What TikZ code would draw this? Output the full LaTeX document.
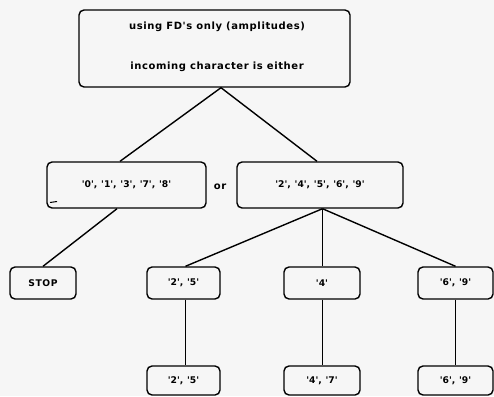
\documentclass[tikz,border=0pt]{standalone}
\usepackage{fontspec}
\setmainfont{DejaVu Sans}
\newfontfamily\boxfont[LetterSpace=6]{DejaVu Sans}
\usetikzlibrary{calc}
\newcommand{\qq}[1]{\textquotesingle#1\textquotesingle}
\begin{document}
\begin{tikzpicture}[x=1pt,y=-1pt,
  box/.style={draw=black,line width=1.4pt,rounded corners=5pt,inner sep=0pt,font=\boxfont\bfseries\fontsize{9.2}{10}\selectfont},
  lbl/.style={inner sep=0pt,font=\boxfont\bfseries\fontsize{10}{11}\selectfont},
  link/.style={draw=black,line width=1.4pt}]
\fill[gray!7] (0,0) rectangle (494,396);
\useasboundingbox (0,0) rectangle (494,396);
% top box
\node[box,minimum width=271pt,minimum height=77pt] (top) at (214.5,48.5) {};
\node[lbl] (t1) at (217,27) {using FD's only (amplitudes)};
\node[lbl] (t2) at (217,67) {incoming character is either};
% middle row
\node[box,minimum width=159pt,minimum height=46pt] (ml) at (126.5,185) {\qq{0}, \qq{1}, \qq{3}, \qq{7}, \qq{8}};
\node[lbl] (or) at (220,187) {or};
\node[box,minimum width=166pt,minimum height=46pt] (mr) at (320,185) {\qq{2}, \qq{4}, \qq{5}, \qq{6}, \qq{9}};
\coordinate (m1) at (50,202.5);
\coordinate (m2) at (57,201.5);
\draw[line width=1pt] (m1) -- (m2);
% third row
\node[box,minimum width=66pt,minimum height=32pt] (stop) at (43,283) {STOP};
\node[box,minimum width=73pt,minimum height=32pt] (r25) at (183.5,283) {\qq{2}, \qq{5}};
\node[box,minimum width=76pt,minimum height=32pt] (r4) at (322,283) {\qq{4}};
\node[box,minimum width=75pt,minimum height=32pt] (r69) at (455.5,283) {\qq{6}, \qq{9}};
% bottom row
\node[box,minimum width=73pt,minimum height=29pt] (b25) at (183.5,380.5) {\qq{2}, \qq{5}};
\node[box,minimum width=76pt,minimum height=29pt] (b47) at (322,380.5) {\qq{4}, \qq{7}};
\node[box,minimum width=75pt,minimum height=29pt] (b69) at (455.5,380.5) {\qq{6}, \qq{9}};
% connectors
\coordinate (ta) at ($(top.south)+(6.5,0)$);
\draw[link] ($(ml.north)+(-6.5,0)$) -- (ta) -- ($(mr.north)+(-3,0)$);
\draw[link] ($(ml.south)+(-9.5,0)$) -- (stop.north);
\coordinate (ra) at ($(mr.south)+(2.5,0)$);
\draw[link] (ra) -- ($(r25.north)+(2,0)$);
\draw[link] (ra) -- ($(r4.north)+(0.5,0)$);
\draw[link] (ra) -- (r69.north);
\draw[link] ($(r25.south)+(2,0)$) -- ($(b25.north)+(2,0)$);
\draw[link] ($(r4.south)+(0.5,0)$) -- ($(b47.north)+(0.5,0)$);
\draw[link] (r69.south) -- (b69.north);
\end{tikzpicture}
\end{document}
